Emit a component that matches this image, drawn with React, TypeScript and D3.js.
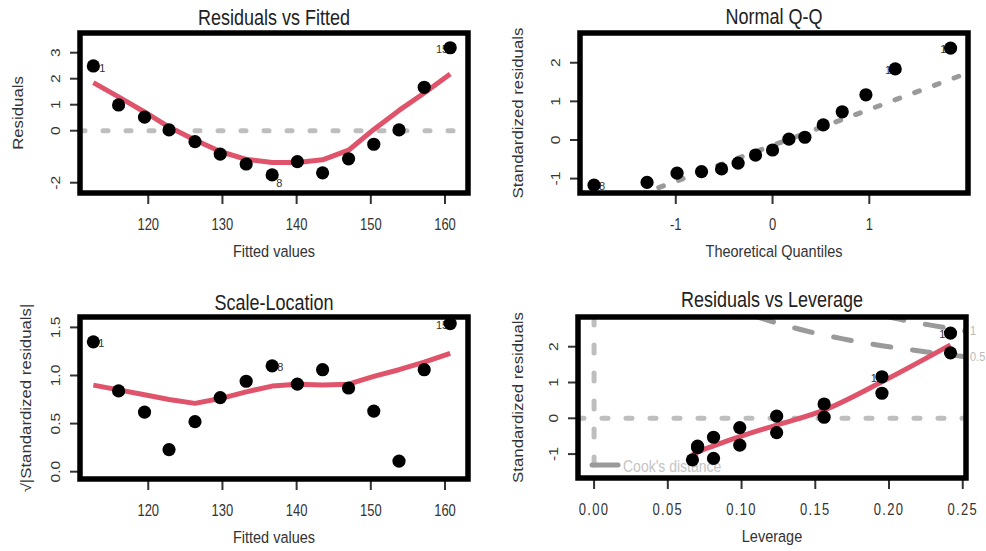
import React from 'react';
import * as d3 from 'd3';

// Residuals vs Fitted / Scale-Location (observation order)
const fitted = [112.6, 116.0, 119.5, 122.8, 126.3, 129.7, 133.2, 136.7, 140.1, 143.5, 147.0, 150.4, 153.8, 157.2, 160.7];
const residuals = [2.49, 0.99, 0.52, 0.03, -0.42, -0.9, -1.28, -1.7, -1.19, -1.62, -1.08, -0.52, 0.03, 1.67, 3.19];
const residSmooth = [1.85, 1.3, 0.72, 0.14, -0.36, -0.8, -1.1, -1.22, -1.22, -1.12, -0.75, 0.05, 0.78, 1.45, 2.18];
const sqrtStdRes = [1.35, 0.84, 0.62, 0.23, 0.52, 0.77, 0.94, 1.1, 0.91, 1.06, 0.87, 0.63, 0.11, 1.06, 1.54];
const scaleSmooth = [0.9, 0.85, 0.8, 0.75, 0.71, 0.76, 0.83, 0.89, 0.91, 0.9, 0.91, 0.99, 1.06, 1.14, 1.23];
const obsLabels = ['1', '8', '15'];
const obsLabelIdx = [0, 7, 14];

// Normal Q-Q (sorted)
const theoQuantiles = [-1.845, -1.297, -0.987, -0.734, -0.527, -0.356, -0.176, 0, 0.169, 0.334, 0.524, 0.72, 0.965, 1.268, 1.84];
const stdResSorted = [-1.17, -1.1, -0.86, -0.82, -0.75, -0.6, -0.39, -0.26, 0.02, 0.07, 0.39, 0.73, 1.17, 1.84, 2.38];
const qqLabels = ['8', '14', '15'];
const qqLabelIdx = [0, 13, 14];
const qqIntercept = -0.14;
const qqSlope = 0.93;

// Residuals vs Leverage
const leverage = [0.0667, 0.0702, 0.0702, 0.081, 0.081, 0.0988, 0.0988, 0.1238, 0.1238, 0.156, 0.156, 0.1952, 0.1952, 0.2417, 0.2417];
const levStdRes = [-1.16, -0.78, -0.82, -0.53, -1.12, -0.26, -0.75, 0.06, -0.4, 0.4, 0.03, 1.16, 0.7, 2.38, 1.83];
const levSmoothX = [0.0667, 0.0702, 0.081, 0.0988, 0.1238, 0.156, 0.1952, 0.2417];
const levSmoothY = [-1.03, -0.95, -0.77, -0.51, -0.19, 0.23, 1.02, 2.05];
const levLabels = ['14', '15', '1'];
const levLabelIdx = [11, 13, 14];
const cookHalfH = [0.11, 0.13, 0.15, 0.17, 0.19, 0.21, 0.23, 0.2522];
const cookHalfR = [2.84, 2.59, 2.38, 2.21, 2.06, 1.94, 1.83, 1.72];
const cookOneH = [0.198, 0.21, 0.23, 0.2522];
const cookOneR = [2.846, 2.74, 2.59, 2.435];
const cookLevels = ['1', '0.5'];

const W = 986;
const H = 551;
const SY = 1.2; // text in the source looks stretched vertically
const FONT = '"Liberation Sans", Arial, Helvetica, sans-serif';
const RED = '#df536b';
const LIGHT = '#bebebe';
const MID = '#9a9a9a';

type Box = { x0: number; x1: number; y0: number; y1: number };

function Txt({ x, y, size, fill = '#333', anchor = 'middle', rotate = false, spacing = 0, children }: any) {
  return (
    <g transform={`translate(${x},${y}) scale(1,${SY})${rotate ? ' rotate(-90)' : ''}`}>
      <text textAnchor={anchor} fontSize={size} fill={fill} fontFamily={FONT} letterSpacing={spacing}>
        {children}
      </text>
    </g>
  );
}

function Panel({ id, box, xDomain, yDomain, xTicks, yTicks, xFmt, yFmt, title, titleY, xlab, ylab, ylabX, xSpacing = 0, children }: any) {
  const x = d3.scaleLinear().domain(xDomain).range([box.x0, box.x1]);
  const y = d3.scaleLinear().domain(yDomain).range([box.y1, box.y0]);
  const cx = (box.x0 + box.x1) / 2;
  const cy = (box.y0 + box.y1) / 2;
  return (
    <g>
      <defs>
        <clipPath id={id}>
          <rect x={box.x0} y={box.y0} width={box.x1 - box.x0} height={box.y1 - box.y0} />
        </clipPath>
      </defs>
      <Txt x={cx} y={titleY} size={18} fill="#222">{title}</Txt>
      {/* x axis */}
      {xTicks.map((t: number) => (
        <g key={'x' + t}>
          <line x1={x(t)} x2={x(t)} y1={box.y1} y2={box.y1 + 11} stroke="#333" strokeWidth={2} />
          <Txt x={x(t)} y={box.y1 + 36.5} size={13} spacing={xSpacing}>{xFmt(t)}</Txt>
        </g>
      ))}
      <Txt x={cx} y={box.y1 + 64} size={14.5}>{xlab}</Txt>
      {/* y axis */}
      {yTicks.map((t: number) => (
        <g key={'y' + t}>
          <line x1={box.x0 - 10} x2={box.x0} y1={y(t)} y2={y(t)} stroke="#333" strokeWidth={2} />
          <Txt x={box.x0 - 20} y={y(t)} size={13} rotate>{yFmt(t)}</Txt>
        </g>
      ))}
      <Txt x={ylabX} y={cy} size={14} rotate>{ylab}</Txt>
      <g clipPath={`url(#${id})`}>{children(x, y)}</g>
      <rect x={box.x0} y={box.y0} width={box.x1 - box.x0} height={box.y1 - box.y0} fill="none" stroke="#000" strokeWidth={5.5} />
    </g>
  );
}

const dots = (xs: number[], ys: number[], x: any, y: any) =>
  xs.map((v, i) => <circle key={i} cx={x(v)} cy={y(ys[i])} r={6.6} fill="#000" />);

export default function App() {
  const p1: Box = { x0: 80, x1: 468, y0: 33, y1: 193 };
  const p2: Box = { x0: 580, x1: 968, y0: 33, y1: 193 };
  const p3: Box = { x0: 80, x1: 468, y0: 317, y1: 479 };
  const p4: Box = { x0: 578, x1: 966, y0: 317, y1: 478 };
  const fmt0 = (d: number) => String(d);
  const fitX = [110.8, 163.1];
  const y4 = d3.scaleLinear().domain([-1.668, 2.83]).range([p4.y1, p4.y0]);

  return (
    <div style={{ position: 'absolute', left: 0, top: 0 }}>
      <svg width={W} height={H} style={{ display: 'block', background: '#fff' }}>
        <Panel id="c1" box={p1} xDomain={fitX} yDomain={[-2.396, 3.758]} xTicks={[120, 130, 140, 150, 160]}
          yTicks={[-2, 0, 1, 2, 3]} xFmt={fmt0} yFmt={fmt0} title="Residuals vs Fitted" titleY={25}
          xlab="Fitted values" ylab="Residuals" ylabX={23}>
          {(x: any, y: any) => (
            <g>
              <line x1={p1.x0} x2={p1.x1} y1={y(0)} y2={y(0)} stroke={LIGHT} strokeWidth={5} strokeDasharray="5 18" strokeLinecap="round" />
              <path d={d3.line<number>().x((d) => x(d)).y((_, i) => y(residSmooth[i]))(fitted) || ''} fill="none" stroke={RED} strokeWidth={5} strokeLinejoin="round" />
              {obsLabelIdx.map((k, j) => {
                const off = j === 0 ? [6, 6, 'start'] : j === 1 ? [4, 12, 'start'] : [-2, 5, 'end'];
                return <text key={j} x={x(fitted[k]) + (off[0] as number)} y={y(residuals[k]) + (off[1] as number)} fontSize={11} fill="#333" fontFamily={FONT} textAnchor={off[2] as string}>{obsLabels[j]}</text>;
              })}
              {dots(fitted, residuals, x, y)}
            </g>
          )}
        </Panel>

        <Panel id="c2" box={p2} xDomain={[-1.99, 2.02]} yDomain={[-1.373, 2.77]} xTicks={[-1, 0, 1]}
          yTicks={[-1, 0, 1, 2]} xFmt={fmt0} yFmt={fmt0} title="Normal Q-Q" titleY={24}
          xlab="Theoretical Quantiles" ylab="Standardized residuals" ylabX={523}>
          {(x: any, y: any) => (
            <g>
              <line x1={x(-1.99)} x2={x(2.02)} y1={y(qqIntercept + qqSlope * -1.99)} y2={y(qqIntercept + qqSlope * 2.02)}
                stroke={MID} strokeWidth={5} strokeDasharray="5 16" strokeLinecap="round" />
              {qqLabelIdx.map((k, j) => (
                <text key={j} x={x(theoQuantiles[k]) + (j === 0 ? 5 : 2)} y={y(stdResSorted[k]) + 5} fontSize={11} fill="#333"
                  fontFamily={FONT} textAnchor={j === 0 ? 'start' : 'end'}>{qqLabels[j]}</text>
              ))}
              {dots(theoQuantiles, stdResSorted, x, y)}
            </g>
          )}
        </Panel>

        <Panel id="c3" box={p3} xDomain={fitX} yDomain={[-0.076, 1.608]} xTicks={[120, 130, 140, 150, 160]}
          yTicks={[0, 0.5, 1, 1.5]} xFmt={fmt0} yFmt={(d: number) => d3.format('.1f')(d)} title="Scale-Location" titleY={310}
          xlab="Fitted values" ylab="√|Standardized residuals|" ylabX={31}>
          {(x: any, y: any) => (
            <g>
              <path d={d3.line<number>().x((d) => x(d)).y((_, i) => y(scaleSmooth[i]))(fitted) || ''} fill="none" stroke={RED} strokeWidth={5} strokeLinejoin="round" />
              {obsLabelIdx.map((k, j) => (
                <text key={j} x={x(fitted[k]) + (j === 2 ? -2 : 5)} y={y(sqrtStdRes[k]) + 5} fontSize={11} fill="#333"
                  fontFamily={FONT} textAnchor={j === 2 ? 'end' : 'start'}>{obsLabels[j]}</text>
              ))}
              {dots(fitted, sqrtStdRes, x, y)}
            </g>
          )}
        </Panel>

        <Panel id="c4" box={p4} xDomain={[-0.0109, 0.2522]} yDomain={[-1.668, 2.83]} xTicks={[0, 0.05, 0.1, 0.15, 0.2, 0.25]}
          yTicks={[-1, 0, 1, 2]} xFmt={(d: number) => d3.format('.2f')(d)} yFmt={fmt0} title="Residuals vs Leverage" titleY={307}
          xlab="Leverage" ylab="Standardized residuals" ylabX={523} xSpacing={1.3}>
          {(x: any, y: any) => (
            <g>
              <line x1={p4.x0} x2={p4.x1} y1={y(0)} y2={y(0)} stroke={LIGHT} strokeWidth={5} strokeDasharray="6 18" strokeLinecap="round" />
              <line x1={x(0)} x2={x(0)} y1={p4.y0} y2={p4.y1} stroke={LIGHT} strokeWidth={5} strokeDasharray="8 20" strokeLinecap="round" />
              {[[cookHalfH, cookHalfR], [cookOneH, cookOneR]].map(([hs, rs], i) => (
                <path key={i} d={d3.line<number>().x((d) => x(d)).y((_, j) => y(rs[j])).curve(d3.curveMonotoneX)(hs) || ''}
                  fill="none" stroke={MID} strokeWidth={5} strokeDasharray="18 22" strokeLinecap="round" />
              ))}
              <line x1={592} x2={618} y1={465} y2={465} stroke={MID} strokeWidth={5} strokeLinecap="round" />
              <Txt x={623} y={472} size={14} fill="#c4c4c4" anchor="start">Cook's distance</Txt>
              <path d={d3.line<number>().x((d) => x(d)).y((_, i) => y(levSmoothY[i])).curve(d3.curveMonotoneX)(levSmoothX) || ''}
                fill="none" stroke={RED} strokeWidth={5} strokeLinejoin="round" />
              {levLabelIdx.map((k, j) => (
                <text key={j} x={x(leverage[k]) + 1} y={y(levStdRes[k]) + 5} fontSize={11} fill="#333"
                  fontFamily={FONT} textAnchor="end">{levLabels[j]}</text>
              ))}
              {dots(leverage, levStdRes, x, y)}
            </g>
          )}
        </Panel>
        {/* Cook's distance contour levels, outside the box */}
        {cookLevels.map((lab, i) => {
          const r = i === 0 ? cookOneR[cookOneR.length - 1] : cookHalfR[cookHalfR.length - 1];
          return <Txt key={lab} x={970} y={y4(r) + 4} size={11} fill="#bbb" anchor="start">{lab}</Txt>;
        })}
      </svg>
    </div>
  );
}
